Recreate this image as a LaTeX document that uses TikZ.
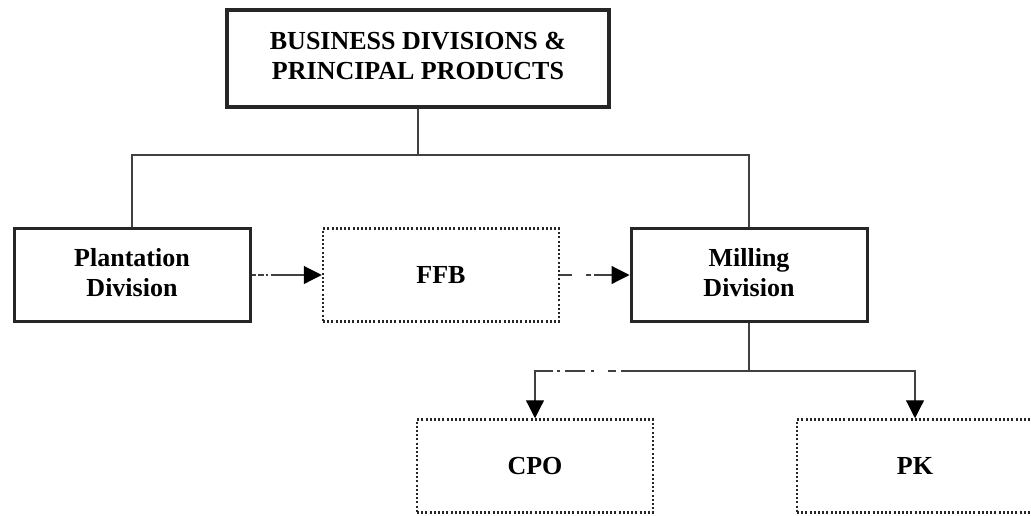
\documentclass[tikz,border=0pt]{standalone}
\usepackage{fontspec}
\setmainfont{Liberation Serif}
\usepackage{tikz}
\usetikzlibrary{arrows.meta}

\begin{document}
\begin{tikzpicture}[x=1pt,y=-1pt,
  font=\fontsize{26}{30}\selectfont\bfseries,
  headbox/.style={draw=black!85, line width=4pt, minimum width=382pt, minimum height=97pt, inner sep=0pt},
  divbox/.style={draw=black!85, line width=3pt, minimum width=236pt, minimum height=93pt, inner sep=0pt},
  prodbox/.style={draw=black!85, line width=2.5pt, dash pattern=on 2pt off 2.2pt, minimum width=236pt, minimum height=93pt, inner sep=0pt},
  conn/.style={draw=black!75, line width=1.2pt},
  flow/.style={conn, -{Triangle[length=18pt,width=18pt,fill=black,color=black]}}]
\useasboundingbox (0,0) rectangle (1031,515);

\node [headbox] (head) at (418,58.5) {\begin{tabular}{c}BUSINESS DIVISIONS \&\\ PRINCIPAL PRODUCTS\end{tabular}};

\node [divbox] (plant) at (132,275) {\begin{tabular}{c}Plantation\\ Division\end{tabular}};
\node [prodbox] (ffb) at (441,275) {FFB};
\node [divbox] (mill) at (749,275) {\begin{tabular}{c}Milling\\ Division\end{tabular}};

\node [prodbox] (cpo) at (535,466) {CPO};
\node [prodbox] (pk) at (915,466) {PK};

% tree from the head box
\coordinate (hub) at (418,155);
\draw [conn] (head.south) -- (hub) -| (plant.north);
\draw [conn] (hub) -| (mill.north);

% product flow
\draw [flow, dash pattern=on 4pt off 2pt on 6pt off 2pt on 2pt off 3pt on 200pt] (plant.east) -- (ffb.west);
\draw [flow, dash pattern=on 12pt off 14pt on 5pt off 3pt on 200pt] (ffb.east) -- (mill.west);

\coordinate (split) at (749,371);
\draw [conn] (mill.south) -- (split);
\draw [flow, dash pattern=on 128pt off 5pt on 8pt off 14pt on 3pt off 6pt on 20pt off 5pt on 3pt off 4pt on 200pt] (split) -| (cpo.north);
\draw [flow] (split) -| (pk.north);
\end{tikzpicture}
\end{document}
